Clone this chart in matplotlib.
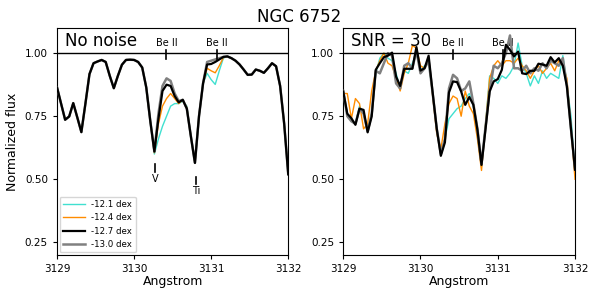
import matplotlib
matplotlib.use("Agg")
import matplotlib.pyplot as plt

# wavelength grid (Angstrom), 58 samples across 3129-3132
wave = [3129 + i * 3.0 / 57 for i in range(58)]

labels = ["-12.1 dex", "-12.4 dex", "-12.7 dex", "-13.0 dex"]
colors = ["turquoise", "darkorange", "black", "grey"]

# --- no noise ---
base_lo = [0.864, 0.80, 0.736, 0.749, 0.802, 0.745, 0.687, 0.80, 0.917, 0.96,
           0.967, 0.973, 0.965, 0.91, 0.861, 0.91, 0.954, 0.973, 0.974, 0.973,
           0.965, 0.943, 0.864, 0.73, 0.61]
base_hi = [0.75, 0.88]
base_end = [0.987, 0.98, 0.97, 0.955, 0.935, 0.914, 0.915, 0.935, 0.93, 0.922,
            0.94, 0.96, 0.948, 0.87, 0.72, 0.52]

mid_121 = [0.66, 0.71, 0.75, 0.79, 0.80, 0.80, 0.81, 0.79, 0.67, 0.565]
mid_124 = [0.72, 0.79, 0.82, 0.84, 0.82, 0.80, 0.815, 0.785, 0.67, 0.565]
mid_127 = [0.74, 0.85, 0.875, 0.87, 0.83, 0.805, 0.815, 0.78, 0.67, 0.565]
mid_130 = [0.76, 0.87, 0.90, 0.89, 0.84, 0.81, 0.815, 0.78, 0.67, 0.565]

be_121 = [0.92, 0.895, 0.876, 0.93, 0.98]
be_124 = [0.94, 0.93, 0.922, 0.95, 0.982]
be_127 = [0.955, 0.957, 0.965, 0.975, 0.985]
be_130 = [0.965, 0.97, 0.975, 0.98, 0.985]

flux_121 = base_lo[:24] + [0.60] + mid_121 + base_hi + be_121 + base_end
flux_124 = base_lo[:24] + [0.605] + mid_124 + base_hi + be_124 + base_end
flux_127 = base_lo + mid_127 + base_hi + be_127 + base_end
flux_130 = base_lo + mid_130 + base_hi + be_130 + base_end
clean = [flux_121, flux_124, flux_127, flux_130]

# --- SNR = 30 ---
snr_121 = [0.85, 0.76, 0.73, 0.72, 0.79, 0.76, 0.70, 0.76, 0.92, 0.98,
           1.00, 0.98, 0.97, 0.92, 0.86, 0.93, 0.92, 0.96, 1.00, 0.93,
           0.95, 0.96, 0.84, 0.70, 0.60, 0.66, 0.74, 0.76, 0.78, 0.79,
           0.82, 0.84, 0.79, 0.67, 0.55, 0.72, 0.91, 0.90, 0.88, 0.91,
           0.90, 0.92, 0.95, 1.04, 0.95, 0.92, 0.87, 0.91, 0.88, 0.93,
           0.90, 0.92, 0.91, 0.90, 0.99, 0.88, 0.75, 0.53]
snr_124 = [0.84, 0.84, 0.74, 0.82, 0.80, 0.70, 0.72, 0.85, 0.93, 0.97,
           1.00, 0.96, 0.95, 0.90, 0.85, 0.92, 0.96, 1.03, 1.02, 0.95,
           0.94, 0.98, 0.83, 0.68, 0.62, 0.72, 0.80, 0.83, 0.82, 0.75,
           0.85, 0.79, 0.76, 0.66, 0.535, 0.72, 0.90, 0.95, 0.97, 0.95,
           0.97, 0.97, 0.96, 0.98, 0.95, 0.93, 0.90, 0.93, 0.95, 0.92,
           0.94, 0.96, 0.93, 0.97, 0.95, 0.90, 0.70, 0.50]
snr_127 = [0.848, 0.76, 0.742, 0.716, 0.78, 0.775, 0.686, 0.749, 0.934, 0.96,
           0.984, 0.99, 1.002, 0.907, 0.87, 0.938, 0.938, 0.938, 1.024, 0.931,
           0.94, 0.99, 0.842, 0.70, 0.593, 0.646, 0.844, 0.888, 0.885, 0.848,
           0.795, 0.826, 0.795, 0.696, 0.557, 0.70, 0.848, 0.888, 0.897, 0.934,
           1.033, 1.013, 0.987, 1.006, 0.92, 0.917, 0.93, 0.93, 0.958, 0.955,
           0.95, 0.984, 0.963, 0.98, 0.95, 0.868, 0.70, 0.538]
snr_130 = [0.85, 0.75, 0.73, 0.72, 0.78, 0.76, 0.69, 0.76, 0.93, 0.92,
           0.96, 1.00, 0.99, 0.88, 0.86, 0.95, 0.96, 0.94, 1.01, 0.92,
           0.94, 0.97, 0.84, 0.70, 0.60, 0.66, 0.86, 0.914, 0.90, 0.85,
           0.86, 0.888, 0.80, 0.70, 0.56, 0.71, 0.85, 0.95, 0.94, 0.96,
           1.00, 1.07, 0.94, 0.94, 0.93, 0.95, 0.92, 0.94, 0.93, 0.96,
           0.94, 0.97, 0.96, 0.95, 0.98, 0.87, 0.70, 0.54]
noisy = [snr_121, snr_124, snr_127, snr_130]

be_lines = [3130.42, 3131.07]
other_lines = [("V", 3130.27, 0.53, 0.56, 0.50), ("Ti", 3130.80, 0.48, 0.51, 0.452)]

fig = plt.figure(figsize=(5.99, 3.0), dpi=100)
ax1 = fig.add_axes([0.0952, 0.15, 0.386, 0.757])
ax2 = fig.add_axes([0.573, 0.15, 0.387, 0.757])

widths = [1.0, 1.0, 1.6, 1.8]
zs = [2, 3, 5, 4]


def panel(ax, data, tag):
    for f, c, lab, lw, z in zip(data, colors, labels, widths, zs):
        ax.plot(wave, f, color=c, lw=lw, label=lab, zorder=z)
    ax.axhline(1.0, color="k", lw=1.0, zorder=6)
    for w in be_lines:
        ax.plot([w, w], [0.976, 1.012], color="k", lw=1.2, zorder=6)
        ax.text(w, 1.04, "Be II", ha="center", va="center", fontsize=7)
    ax.text(3129.1, 1.048, tag, ha="left", va="center", fontsize=12)
    ax.set_xlim(3129, 3132)
    ax.set_ylim(0.2, 1.1)
    ax.set_xticks([3129, 3130, 3131, 3132])
    ax.set_yticks([0.25, 0.5, 0.75, 1.0])
    ax.set_yticklabels(["0.25", "0.50", "0.75", "1.00"])
    ax.tick_params(labelsize=7.5, length=3)
    ax.set_xlabel("Angstrom", fontsize=9, labelpad=1)


panel(ax1, clean, "No noise")
panel(ax2, noisy, "SNR = 30")

for name, w, y0, y1, ytxt in other_lines:
    ax1.plot([w, w], [y0, y1], color="k", lw=1.2)
    ax1.text(w, ytxt, name, ha="center", va="center", fontsize=7)

ax1.set_ylabel("Normalized flux", fontsize=9)
ax1.legend(loc="lower left", fontsize=6.2, handlelength=2.5, borderaxespad=0.3,
           labelspacing=0.5)
fig.suptitle("NGC 6752", fontsize=12, y=0.975)

fig.savefig("out.png", dpi=100)
